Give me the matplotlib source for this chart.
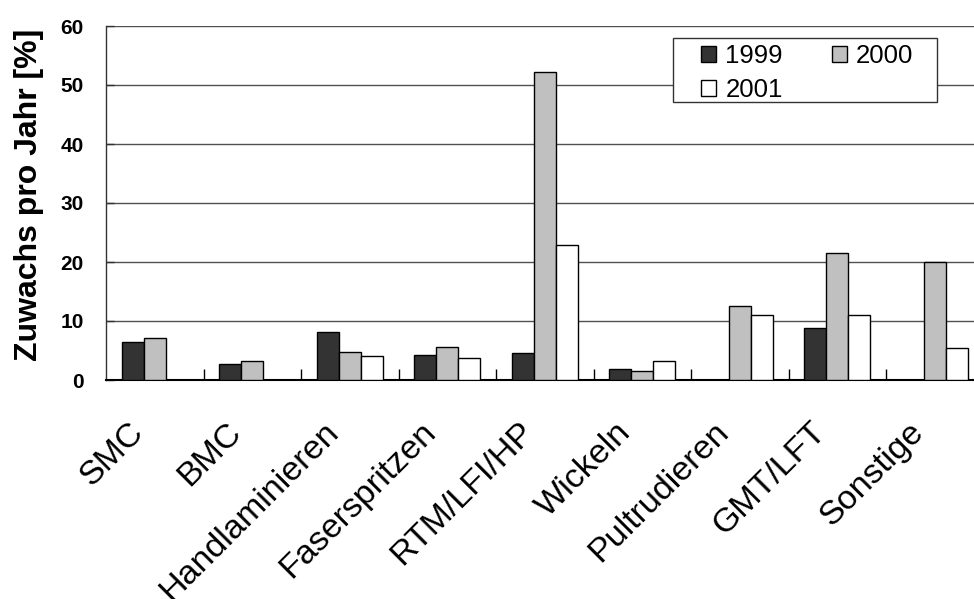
import numpy as np
import matplotlib
matplotlib.use("Agg")
import matplotlib.pyplot as plt
import matplotlib.patches as mpatches
import matplotlib.transforms as mtransforms
from matplotlib.ticker import FixedLocator

plt.rcParams['font.family'] = ['Liberation Sans', 'DejaVu Sans']

# Zuwachs je Verfahren und Jahr (%)
verfahren = ['SMC', 'BMC', 'Handlaminieren', 'Faserspritzen', 'RTM/LFI/HP',
             'Wickeln', 'Pultrudieren', 'GMT/LFT', 'Sonstige']
jahre = ['1999', '2000', '2001']
werte_1999 = [6.5, 2.7, 8.1, 4.2, 4.5, 1.8, 0, 8.8, 0]
werte_2000 = [7.1, 3.2, 4.8, 5.6, 52.2, 1.6, 12.5, 21.6, 20.0]
werte_2001 = [0, 0, 4.0, 3.8, 22.8, 3.3, 11.1, 11.1, 5.5]
farben = ['#333333', '#c0c0c0', '#ffffff']

fig = plt.figure(figsize=(9.74, 5.99), dpi=100)
ax = fig.add_axes([106 / 974, 1 - 380 / 599, 877.5 / 974, 354 / 599])

x = np.arange(len(verfahren))
breite = 0.225
for i, (werte, farbe) in enumerate(zip([werte_1999, werte_2000, werte_2001], farben)):
    b = ax.bar(x + (i - 1) * breite, werte, breite, color=farbe,
               edgecolor='black', linewidth=1, zorder=3)
    # leere Balken gar nicht zeichnen
    for p in b.patches:
        if p.get_height() == 0:
            p.set_visible(False)

ax.set_xlim(-0.5, len(verfahren) - 0.5)
ax.set_ylim(0, 60)
ax.set_yticks(np.arange(0, 61, 10))
ax.yaxis.grid(True, color='#505050', linewidth=1, zorder=0)
ax.set_axisbelow(True)

# Beschriftung in der Mitte, Teilstriche zwischen den Kategorien
ax.set_xticks(x)
ax.set_xticklabels(verfahren, rotation=45, ha='right', va='center',
                   rotation_mode='anchor', fontsize=24.5)
ax.tick_params(axis='x', which='major', length=0, pad=34)
versatz = mtransforms.ScaledTranslation(-16 / 100, 0, fig.dpi_scale_trans)
for lbl in ax.get_xticklabels():
    lbl.set_transform(lbl.get_transform() + versatz)
ax.xaxis.set_minor_locator(FixedLocator(np.arange(0.5, len(verfahren) - 0.5, 1)))
ax.tick_params(axis='x', which='minor', direction='in', length=8, width=1, color='black')

for lbl in ax.get_yticklabels():
    lbl.set_fontweight('bold')
ax.tick_params(axis='y', direction='in', length=6, width=1, color='#333333',
               labelsize=15, pad=16)
ax.set_ylabel('Zuwachs pro Jahr [%]', fontsize=23, fontweight='bold', labelpad=12)
ax.yaxis.label.set_y(0.523)

for s in ['top', 'right']:
    ax.spines[s].set_visible(False)
ax.spines['left'].set_color('#333333')
ax.spines['left'].set_linewidth(1)
ax.spines['bottom'].set_color('black')
ax.spines['bottom'].set_linewidth(1.5)

# Legende: 1999 und 2000 in der ersten Zeile, 2001 darunter
proxies = {j: mpatches.Patch(facecolor=f, edgecolor='black', linewidth=1)
           for j, f in zip(jahre, farben)}
reihenfolge = ['1999', '2001', '2000']
leg = fig.legend([proxies[j] for j in reihenfolge], reihenfolge, ncol=2,
                 loc='upper left', bbox_to_anchor=(701 / 974, 1 - 44 / 599),
                 borderaxespad=0, fontsize=18.5, frameon=False,
                 handlelength=0.6, handleheight=0.6, handletextpad=0.35,
                 columnspacing=1.9, labelspacing=0.38, borderpad=0)
rahmen = mpatches.Rectangle((673 / 974, 1 - 102 / 599), 264 / 974, 64 / 599,
                            transform=fig.transFigure, facecolor='white',
                            edgecolor='#333333', linewidth=1, zorder=4)
fig.add_artist(rahmen)
leg.set_zorder(5)

fig.savefig('out.png', dpi=100)
